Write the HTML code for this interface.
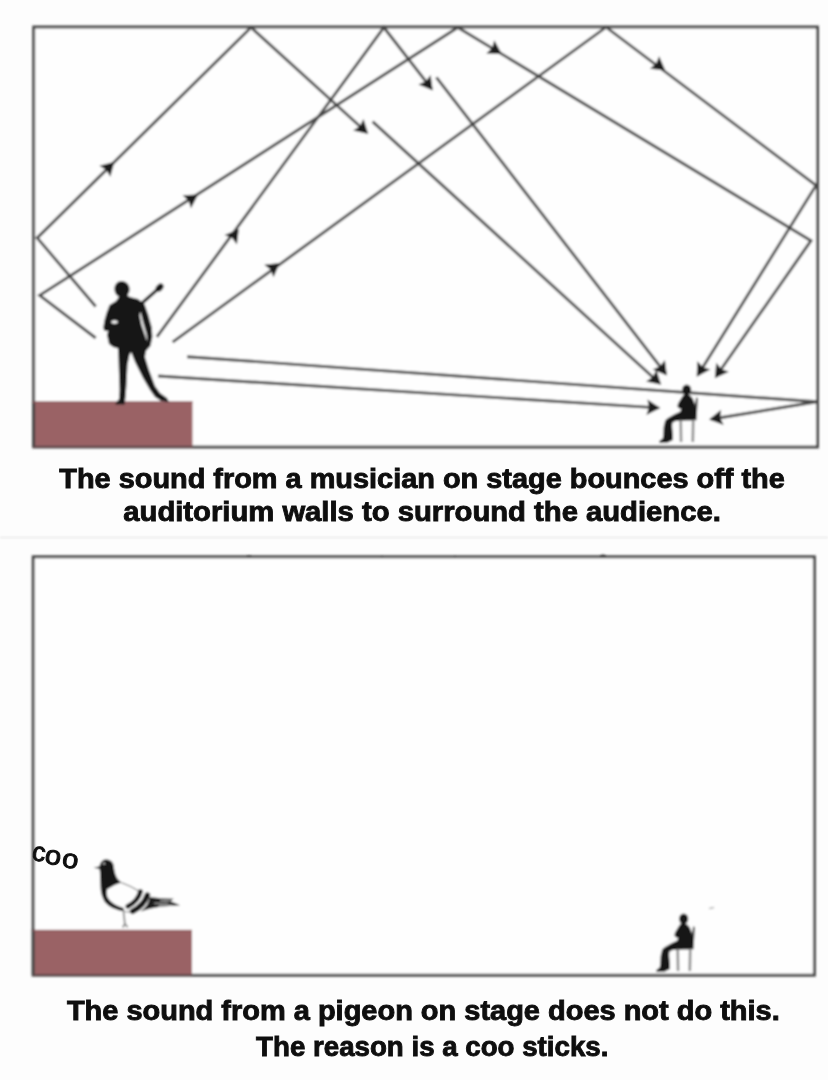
<!DOCTYPE html>
<html><head><meta charset="utf-8">
<style>
html,body{margin:0;padding:0;background:#fdfdfd;}
body{width:828px;height:1080px;overflow:hidden;position:relative;}
svg{position:absolute;left:0;top:0;}
text{font-family:"Liberation Sans",sans-serif;font-weight:bold;fill:#0e0e0e;stroke:#0e0e0e;stroke-width:0.9px;}
</style></head><body>
<svg width="828" height="1080" viewBox="0 0 828 1080">
<defs><filter id="bl" x="-5%" y="-5%" width="110%" height="110%"><feGaussianBlur stdDeviation="0.8"/></filter></defs>
<rect x="0" y="0" width="828" height="1080" fill="#fdfdfd"/>
<g filter="url(#bl)">
<line x1="0" y1="537.5" x2="828" y2="537.5" stroke="#e2e2e2" stroke-width="1.2"/>
<!-- top panel -->
<rect x="33.7" y="27" width="783.8" height="420" fill="#fefefe" stroke="#454545" stroke-width="2.9"/>
<rect x="33" y="401.5" width="159.5" height="46" fill="#9a6265"/>
<line x1="33.7" y1="447" x2="33.7" y2="401" stroke="#454545" stroke-width="2.9"/>
<line x1="33" y1="446.8" x2="192.5" y2="446.8" stroke="#5e4a4c" stroke-width="2"/>
<line x1="33" y1="402.3" x2="192.5" y2="402.3" stroke="#8e5a5e" stroke-width="1.4"/>
<g fill="none" stroke="#474747" stroke-width="2.9" stroke-linejoin="miter" stroke-linecap="butt">
<polyline points="95.7,306.5 37.2,237.9 251.0,27.5 366.5,132.3"/>
<polyline points="372.6,121.6 659.5,383.2"/>
<polyline points="95.7,338.0 39.7,295.4 457.8,27.5 811.0,240.7 716.0,376.5"/>
<polyline points="156.9,336.9 383.9,27.5 431.5,88.6"/>
<polyline points="436.4,77.4 665.8,373.8"/>
<polyline points="172.6,342.2 606.1,27.2 816.0,185.4 698.0,375.0"/>
<polyline points="187.1,356.7 817.0,401.8 711.0,419.2"/>
<polyline points="158.1,376.0 658.5,407.9"/>
</g>
<polygon points="114.5,161.8 110.3,176.8 106.3,169.9 99.4,165.7" fill="#1c1c1c"/>
<polygon points="368.3,133.9 353.1,130.6 359.8,126.2 363.5,119.1" fill="#1c1c1c"/>
<polygon points="661.2,384.8 646.0,381.4 652.7,377.1 656.4,370.0" fill="#1c1c1c"/>
<polygon points="198.2,194.5 191.0,208.3 188.5,200.7 182.6,195.2" fill="#1c1c1c"/>
<polygon points="501.9,53.9 486.3,53.6 492.1,48.0 494.3,40.3" fill="#1c1c1c"/>
<polygon points="714.8,378.3 716.2,362.8 721.4,368.9 728.9,371.7" fill="#1c1c1c"/>
<polygon points="238.9,229.0 236.9,244.4 232.0,238.1 224.6,235.1" fill="#1c1c1c"/>
<polygon points="432.8,90.4 418.4,84.5 425.8,81.3 430.6,75.0" fill="#1c1c1c"/>
<polygon points="667.0,375.4 652.6,369.5 660.0,366.3 664.9,360.0" fill="#1c1c1c"/>
<polygon points="279.8,263.0 273.5,277.3 270.6,269.8 264.3,264.8" fill="#1c1c1c"/>
<polygon points="665.4,70.4 649.9,68.7 656.1,63.6 659.1,56.2" fill="#1c1c1c"/>
<polygon points="696.7,376.8 697.3,361.2 702.8,367.1 710.4,369.4" fill="#1c1c1c"/>
<polygon points="709.0,419.6 721.1,409.8 720.3,417.7 723.6,425.1" fill="#1c1c1c"/>
<polygon points="660.4,408.0 646.4,414.9 648.9,407.3 647.4,399.4" fill="#1c1c1c"/>
<g fill="#151515">
<ellipse cx="122" cy="289.2" rx="7.7" ry="8.3" transform="rotate(-10 122 289.2)"/>
<polygon points="119.5,296 116,301 109.5,305 106.5,313 104.5,320 103.2,328 104.5,331 108,331 107,335 109,344 113,347 118,348.5 118.5,360 119,375 119.5,390 119,399 116,402.5 115.5,404.5 124.5,404.5 125.5,398 126.5,385 127.5,365 129.5,355 131,352 135,362 143,378 150,390 155,397 161,401 169,402 167,398 160,393 155,386 149,370 145,357 146,351 150.5,346 152.4,337 151.8,327.6 148.2,314.6 144.5,304 138,299 130,297 127,295"/>
<line x1="141" y1="304" x2="158" y2="289" stroke="#151515" stroke-width="3.2"/>
<ellipse cx="159.6" cy="287.6" rx="3.3" ry="4.6" transform="rotate(45 159.6 287.6)"/>
</g>
<ellipse cx="114.5" cy="322" rx="3.2" ry="1.7" fill="#f4f4f4"/>
<polygon points="140.5,312 143,322 146.5,334 147.5,342 146,338 141.5,325 139.5,315" fill="#f0f0f0"/>
<g transform="translate(643.0 366.0) scale(0.108696)">
<g fill="#151515">
<ellipse cx="402" cy="220" rx="42" ry="50"/>
<polygon points="375,262 350,300 325,340 315,370 330,388 352,398 340,420 290,445 230,478 205,500 190,560 186,640 181,668 150,690 152,708 225,705 275,680 276,640 268,560 270,522 300,506 400,502 470,502 485,440 482,360 458,300 432,268"/>
<polygon points="488,290 505,295 492,500 470,500"/>
</g>
<g stroke="#8c8c8c" stroke-width="24" fill="none">
<line x1="347" y1="500" x2="350" y2="700"/>
<line x1="462" y1="500" x2="458" y2="700"/>
</g>
</g>
<!-- bottom panel -->
<rect x="33.2" y="556.8" width="781.2" height="418.4" fill="#fefefe" stroke="#454545" stroke-width="2.9"/>
<rect x="33" y="929.8" width="159" height="45.7" fill="#9a6265"/>
<ellipse cx="711.5" cy="908" rx="3" ry="1.1" fill="#c4c4c4" transform="rotate(-10 711.5 908)"/>
<g fill="#2e2e2e"><ellipse cx="249" cy="556.6" rx="3" ry="1.4"/><ellipse cx="382" cy="556.8" rx="2" ry="0.9"/><ellipse cx="455" cy="556.8" rx="2" ry="0.9"/><ellipse cx="603" cy="556.2" rx="3.2" ry="1.6"/></g>
<line x1="33.2" y1="975.5" x2="33.2" y2="929" stroke="#454545" stroke-width="2.9"/>
<line x1="33" y1="974.9" x2="192" y2="974.9" stroke="#5e4a4c" stroke-width="2"/>
<line x1="33" y1="930.6" x2="192" y2="930.6" stroke="#8e5a5e" stroke-width="1.4"/>
<g transform="translate(90 855) scale(0.114732)">
<path d="M84,120 L82,96 Q95,42 140,38 Q195,42 206,88 Q214,170 240,208 L272,240 L215,262 L150,298 Q138,335 152,368 Q190,432 292,462 L300,492 Q190,480 130,412 Q93,352 92,282 Q88,200 86,142 L80,118 Z" fill="#121212"/>
<path d="M32,111 L86,97 L90,123 Z" fill="#121212"/>
<path d="M272,240 Q350,268 432,318" stroke="#777" stroke-width="10" fill="none"/>
<path d="M300,492 Q340,500 372,492" stroke="#888" stroke-width="10" fill="none"/>
<path d="M440,318 Q420,400 330,448" stroke="#121212" stroke-width="42" fill="none" stroke-linecap="round"/>
<path d="M500,350 Q470,440 372,490" stroke="#121212" stroke-width="50" fill="none" stroke-linecap="round"/>
<path d="M520,365 L620,378 L730,382 L700,400 L785,438 L610,450 Q520,462 440,492 Q510,440 520,365 Z" fill="#1a1a1a"/>
<path d="M560,420 L680,420 M610,395 L700,398 M600,440 L720,436" stroke="#bdbdbd" stroke-width="9" fill="none"/>
<ellipse cx="122" cy="75" rx="10" ry="8" fill="#d0d0d0"/>
<path d="M292,492 L304,600 M304,598 L285,632 M304,598 L328,630" stroke="#8a8a8a" stroke-width="16" fill="none"/>
</g>
<g transform="translate(640.0 895.0) scale(0.108696)">
<g fill="#151515">
<ellipse cx="402" cy="220" rx="42" ry="50"/>
<polygon points="375,262 350,300 325,340 315,370 330,388 352,398 340,420 290,445 230,478 205,500 190,560 186,640 181,668 150,690 152,708 225,705 275,680 276,640 268,560 270,522 300,506 400,502 470,502 485,440 482,360 458,300 432,268"/>
<polygon points="488,290 505,295 492,500 470,500"/>
</g>
<g stroke="#8c8c8c" stroke-width="24" fill="none">
<line x1="347" y1="500" x2="350" y2="700"/>
<line x1="462" y1="500" x2="458" y2="700"/>
</g>
</g>
</g>
<g font-size="26.5"><text style="stroke-width:1.0px;font-weight:normal" x="32.3" y="861" transform="rotate(8 39 853)">c</text><text style="stroke-width:1.0px;font-weight:normal" x="46" y="864.5" transform="rotate(8 54 856) translate(54 0) scale(1.1 1) translate(-54 0)">o</text><text style="stroke-width:1.0px;font-weight:normal" x="63" y="868" transform="rotate(8 71 860) translate(71 0) scale(1.1 1) translate(-71 0)">o</text></g>
<text x="59.3" y="488.3" font-size="28" textLength="725.5" lengthAdjust="spacingAndGlyphs">The sound from a musician on stage bounces off the</text>
<text x="123.3" y="520.7" font-size="28" textLength="597.5" lengthAdjust="spacingAndGlyphs">auditorium walls to surround the audience.</text>
<text x="66.9" y="1019.5" font-size="28" textLength="712.8" lengthAdjust="spacingAndGlyphs">The sound from a pigeon on stage does not do this.</text>
<text x="256.1" y="1056.2" font-size="28" textLength="352.3" lengthAdjust="spacingAndGlyphs">The reason is a coo sticks.</text>
</svg>
</body></html>
